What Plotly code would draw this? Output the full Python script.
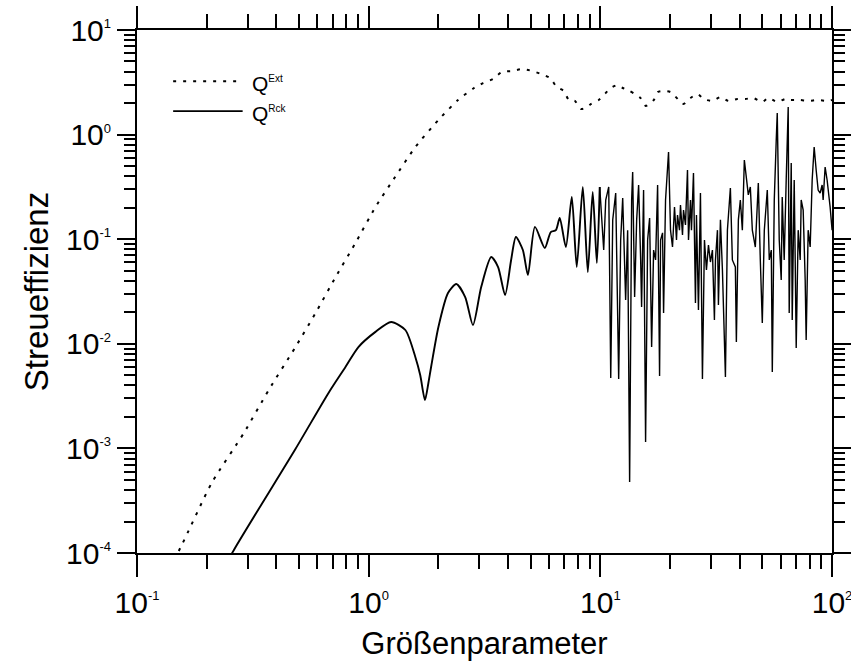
import plotly.graph_objects as go

# ---- data ----
ext_x = [0.1, 0.1545, 0.21, 0.289, 0.37, 0.483, 0.59, 0.72, 0.877, 1.07, 1.30, 1.59, 2.00, 2.43,
         2.85, 3.12, 3.44, 3.76, 4.20, 4.59, 5.07, 5.54, 6.06, 6.49, 6.96, 7.31, 7.76, 8.24, 8.65,
         9.10, 9.84, 10.35, 11.1, 11.9, 12.5, 13.4, 14.1, 14.9, 15.7, 17.0, 17.7, 18.6, 20.1, 21.8,
         22.9, 24.5, 26.3, 27.9, 30.5, 33.0, 35.7, 39.0, 42.3, 45.7, 50.0, 53.1, 58.0, 62.8, 66.1,
         72.9, 78.9, 87.1, 95.3, 100.0]
ext_y = [1.8e-5, 1.14e-4, 4.67e-4, 1.40e-3, 3.61e-3, 9.31e-3, 0.0197, 0.0435, 0.092, 0.203, 0.393,
         0.76, 1.38, 2.14, 2.79, 3.11, 3.40, 3.97, 4.06, 4.24, 4.06, 3.80, 3.48, 2.85, 2.61, 2.14,
         2.10, 1.76, 1.80, 1.96, 2.14, 2.39, 2.79, 2.98, 2.79, 2.61, 2.44, 2.24, 1.88, 2.14, 2.55,
         2.61, 2.55, 2.14, 1.96, 2.24, 2.44, 2.19, 2.10, 2.29, 2.10, 2.19, 2.19, 2.24, 2.05, 2.24,
         2.05, 2.19, 2.14, 2.14, 2.10, 2.14, 2.10, 2.14]

rck_x = [0.2, 0.262, 0.483, 0.671, 0.794, 0.903, 1.07, 1.25, 1.44, 1.59, 1.67, 1.75, 1.81, 1.86,
         2.00, 2.20, 2.39, 2.61, 2.82, 3.06, 3.38, 3.62, 3.88, 4.12, 4.32, 4.63, 4.87, 5.22, 5.76,
         6.11, 6.43, 6.68, 7.10, 7.53, 7.91, 8.40, 8.83, 9.27, 9.66, 9.94,
         10.34, 10.55, 10.87, 11.09, 11.31, 11.65, 12.00, 12.24, 12.49, 12.86,
         13.12, 13.38, 13.65, 13.79, 14.06, 14.35, 14.63, 14.93, 15.07, 15.37,
         15.68, 16.00, 16.32, 16.65, 16.98, 17.32, 17.67, 18.02, 18.20, 18.56,
         18.75, 19.12, 19.70, 20.09, 20.49, 20.90, 21.32, 21.53, 21.96, 22.18,
         22.63, 22.86, 23.31, 23.78, 24.02, 24.50, 24.74, 25.24, 25.74, 26.00,
         26.52, 27.05, 27.59, 28.15, 28.71, 29.29, 29.87, 30.47, 31.08, 31.40,
         32.03, 32.34, 32.99, 33.65, 34.67, 35.36, 36.42, 37.15, 38.27, 38.65,
         39.43, 40.21, 41.02, 41.84, 42.68, 43.53, 44.41, 45.30, 46.67, 47.60,
         48.08, 49.04, 50.02, 51.03, 52.56, 53.61, 54.70, 55.24, 56.34, 57.45,
         58.03, 59.19, 60.37, 60.97, 62.18, 63.43, 64.71, 65.35, 66.02, 66.68,
         67.34, 68.01, 68.69, 69.37, 70.06, 71.46, 72.90, 73.62, 75.09, 76.60,
         77.36, 78.91, 80.50, 82.11, 83.75, 85.43, 87.14, 88.88, 90.66, 91.56,
         93.40, 95.26, 97.19, 98.15, 100.1]
rck_y = [3.6e-5, 1.07e-4, 9.87e-4, 3.39e-3, 6.0e-3, 9.31e-3, 0.0130, 0.01615, 0.01355, 0.00748,
         0.0050, 0.0029, 0.0042, 0.0060, 0.0145, 0.0306, 0.0373, 0.0280, 0.0151, 0.0349, 0.0676,
         0.0542, 0.0293, 0.0633, 0.105, 0.0788, 0.0455, 0.131, 0.0824, 0.117, 0.122, 0.160, 0.0842,
         0.253, 0.0542, 0.316, 0.0486, 0.283, 0.0592, 0.316,
         0.0788, 0.237, 0.316, 0.00471, 0.153, 0.276, 0.00461, 0.0983, 0.248, 0.0262,
         0.122, 0.000477, 0.237, 0.439, 0.0280, 0.153, 0.330, 0.0633, 0.0225, 0.295,
         0.00115, 0.0983, 0.159, 0.00932, 0.0788, 0.0633, 0.330, 0.00492, 0.0983, 0.115,
         0.0197, 0.237, 0.682, 0.122, 0.0842, 0.203, 0.0983, 0.170, 0.122, 0.212,
         0.110, 0.190, 0.137, 0.459, 0.0983, 0.237, 0.122, 0.429, 0.0245, 0.170,
         0.0210, 0.276, 0.00461, 0.0983, 0.0507, 0.0881, 0.0605, 0.0788, 0.0169, 0.0633,
         0.122, 0.0235, 0.153, 0.0507, 0.00482, 0.122, 0.309, 0.0633, 0.0542, 0.0104,
         0.153, 0.237, 0.122, 0.572, 0.411, 0.265, 0.316, 0.122, 0.0842, 0.237,
         0.345, 0.0633, 0.0158, 0.122, 0.295, 0.0633, 0.0788, 0.00537, 0.237, 0.888,
         1.61, 0.0983, 0.0407, 0.253, 0.0633, 0.368, 1.84, 0.0197, 0.237, 0.535,
         0.0169, 0.153, 0.368, 0.0633, 0.00912, 0.122, 0.0633, 0.237, 0.190, 0.0407,
         0.0109, 0.122, 0.0842, 0.368, 0.761, 0.459, 0.295, 0.276, 0.330, 0.237,
         0.490, 0.368, 0.265, 0.203, 0.122]

x_tick_vals = [0.1, 1, 10, 100]
x_tick_exp = ["-1", "0", "1", "2"]
y_tick_vals = [1e-4, 1e-3, 1e-2, 1e-1, 1, 10]
y_tick_exp = ["-4", "-3", "-2", "-1", "0", "1"]
x_title = "Größenparameter"
y_title = "Streueffizienz"
legend_ext = ("Q", "Ext")
legend_rck = ("Q", "Rck")

FONT = "Liberation Sans, Arial, sans-serif"


def pow10(e):
    return "10<sup><span style='font-size:13px'>" + e + "</span></sup>"


x_tick_text = [pow10(e) for e in x_tick_exp]
y_tick_text = [pow10(e) for e in y_tick_exp]

x_minor = [m * 10 ** e for e in (-1, 0, 1) for m in range(2, 10)]
y_minor = [m * 10 ** e for e in (-4, -3, -2, -1, 0) for m in range(2, 10)]

split = rck_x.index(9.94) + 1

fig = go.Figure()
fig.add_trace(go.Scatter(x=ext_x, y=ext_y, mode="lines", name="Ext",
                         line=dict(color="black", width=2, dash="3px,7px", shape="spline", smoothing=0.6)))
fig.add_trace(go.Scatter(x=rck_x[:split], y=rck_y[:split], mode="lines", name="Rck",
                         line=dict(color="black", width=1.9, shape="spline", smoothing=0.7)))
fig.add_trace(go.Scatter(x=rck_x[split - 1:], y=rck_y[split - 1:], mode="lines", showlegend=False,
                         line=dict(color="black", width=1.4)))

axis_common = dict(
    type="log", showline=True, linecolor="black", linewidth=2, mirror="ticks",
    ticks="outside", tickwidth=2, tickcolor="black", showgrid=False, zeroline=False,
    automargin=False, ticklabeloverflow="allow",
    tickfont=dict(family=FONT, size=30, color="black"),
)

fig.update_xaxes(**axis_common, range=[-1, 2], tickmode="array", tickvals=x_tick_vals,
                 ticktext=x_tick_text, ticklen=22,
                 minor=dict(tickmode="array", tickvals=x_minor, ticks="outside", ticklen=14,
                            tickwidth=1.5, tickcolor="black", showgrid=False),
                 title=dict(text=x_title, font=dict(family=FONT, size=31, color="black"), standoff=14))
fig.update_yaxes(**axis_common, range=[-4, 1], tickmode="array", tickvals=y_tick_vals,
                 ticktext=y_tick_text, ticklen=18,
                 minor=dict(tickmode="array", tickvals=y_minor, ticks="outside", ticklen=11,
                            tickwidth=1.5, tickcolor="black", showgrid=False),
                 title=dict(text=y_title, font=dict(family=FONT, size=33, color="black"), standoff=8))

# legend drawn as decoration in the upper-left corner of the plot area
leg_y = [0.902, 0.845]
fig.add_shape(type="line", xref="paper", yref="paper", x0=0.052, x1=0.152, y0=leg_y[0], y1=leg_y[0],
              line=dict(color="black", width=2, dash="3px,7px"))
fig.add_shape(type="line", xref="paper", yref="paper", x0=0.052, x1=0.152, y0=leg_y[1], y1=leg_y[1],
              line=dict(color="black", width=1.8))
for (q, s), yy in zip([legend_ext, legend_rck], leg_y):
    fig.add_annotation(xref="paper", yref="paper", x=0.162, y=yy - 0.004,
                       text=q + "<sup><span style='font-size:10px'>" + s + "</span></sup>",
                       showarrow=False, xanchor="left", yanchor="middle",
                       font=dict(family=FONT, size=21, color="black"))

fig.update_layout(
    width=851, height=669, showlegend=False,
    margin=dict(l=137, r=19, t=30, b=116, autoexpand=False),
    paper_bgcolor="white", plot_bgcolor="white",
    font=dict(family=FONT, color="black"),
)

fig.write_html("out.html", config={"displayModeBar": False},
               post_script="document.body.style.margin='0';document.body.style.overflow='hidden';")
